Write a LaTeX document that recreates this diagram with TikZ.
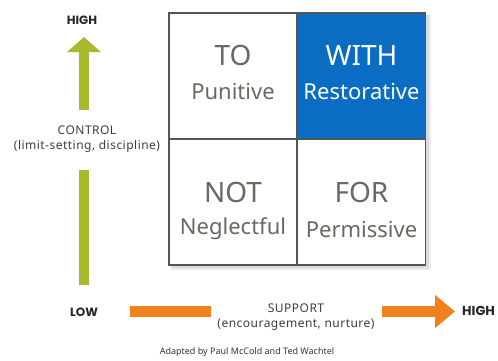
\documentclass[tikz,border=0pt]{standalone}
\usepackage{fontspec}
\setmainfont{Noto Sans}
\newfontfamily\popfont{Poppins}
\newfontfamily\lblfont{Noto Sans}[LetterSpace=4]
\usetikzlibrary{arrows.meta}
\definecolor{cellblue}{HTML}{0A6CC2}
\definecolor{ctxt}{HTML}{6B6862}
\definecolor{gridc}{HTML}{555555}
\definecolor{agreen}{HTML}{A8BA2C}
\definecolor{aorange}{HTML}{F0821E}
\definecolor{lbl}{HTML}{3C3C3C}
\tikzset{
  cell/.style={draw=gridc, line width=1.5pt, minimum width=128pt, minimum height=126pt, inner sep=0pt},
  bigword/.style={text=ctxt, font=\fontsize{28}{28}\selectfont, inner sep=0pt},
  subword/.style={text=ctxt, font=\fontsize{22}{22}\selectfont, inner sep=0pt},
  axislbl/.style={text=lbl, font=\lblfont\fontsize{12}{12}\selectfont, inner sep=0pt},
  endlbl/.style={text=black!85, font=\popfont\bfseries\fontsize{12}{12}\selectfont, inner sep=0pt},
  garrow/.style={draw=agreen, line width=10pt},
  oarrow/.style={draw=aorange, line width=11pt},
}
\begin{document}
\begin{tikzpicture}[x=1pt,y=-1pt]
\useasboundingbox (0,0) rectangle (498,360);
% soft shadow
\fill[black!8] (171,15) rectangle (431,270);
\fill[black!14] (171,15) rectangle (429,268);
% cells
\node[cell, fill=white] (to)   at (233,76) {};
\node[cell, fill=cellblue] (with) at (361.5,76) {};
\node[cell, fill=white] (not)  at (233,202) {};
\node[cell, fill=white] (for)  at (361.5,202) {};
% cell texts
\node[bigword] (toT) at (233,55) {TO};
\node[subword] (toS) at (233,91) {Punitive};
\node[bigword, text=white] (withT) at (361.5,55) {WITH};
\node[subword, text=white] (withS) at (361.5,91) {Restorative};
\node[bigword] (notT) at (233,192) {NOT};
\node[subword] (notS) at (233,229) {Neglectful};
\node[bigword] (forT) at (361.5,192) {FOR};
\node[subword] (forS) at (361.5,229) {Permissive};
% vertical axis
\node[endlbl] (vhigh) at (82,20) {HIGH};
\node[endlbl] (vlow) at (84,312) {LOW};
\node[axislbl, align=center] (control) at (87,139) {CONTROL\\[3pt](limit-setting, discipline)};
\coordinate (g1) at (84,110);
\coordinate (g2) at (84,37);
\coordinate (g3) at (84,170);
\coordinate (g4) at (84,285);
\draw[garrow, -{Triangle[width=33pt,length=15pt]}] (g1) -- (g2);
\draw[garrow] (g3) -- (g4);
% horizontal axis
\node[endlbl, anchor=west, font=\popfont\bfseries\fontsize{13}{13}\selectfont] (hhigh) at (462,311) {HIGH};
\node[axislbl, align=center] (support) at (296,317) {SUPPORT\\[3pt](encouragement, nurture)};
\coordinate (o1) at (130,311.5);
\coordinate (o2) at (211,311.5);
\coordinate (o3) at (382,311.5);
\coordinate (o4) at (455,311.5);
\draw[oarrow] (o1) -- (o2);
\draw[oarrow, -{Triangle[width=32pt,length=20pt]}] (o3) -- (o4);
% credit
\node[text=black!80, font=\fontsize{9}{9}\selectfont, inner sep=0pt] (credit) at (247,352) {Adapted by Paul McCold and Ted Wachtel};
\end{tikzpicture}
\end{document}
